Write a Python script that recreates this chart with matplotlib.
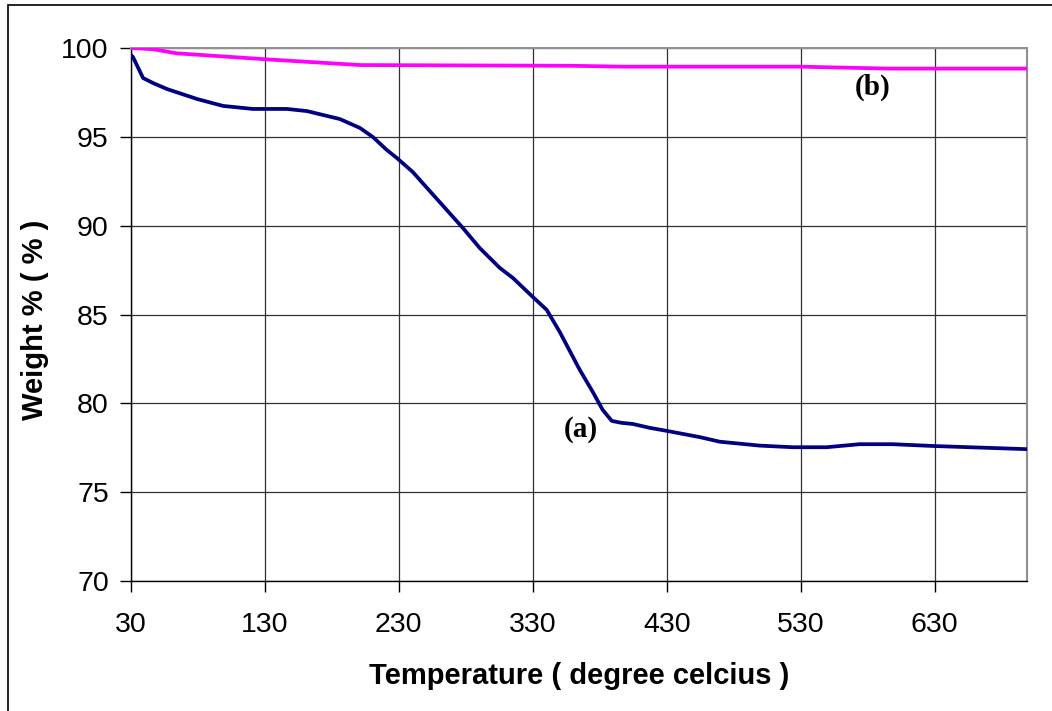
import matplotlib
matplotlib.use("Agg")
import matplotlib.pyplot as plt
from matplotlib.patches import Rectangle

temp_a = [30, 31.5, 39, 46.4, 56.9, 79.3, 98.7, 121, 146.4, 161.3, 186, 200.9, 210.6,
          221, 228.5, 240.4, 245.7, 265.8, 277.8, 290.4, 305.4, 315.1, 330, 340.4, 350.1,
          365.1, 374.8, 382.2, 389, 396.4, 404.6, 417.3, 430, 454.6, 469.6, 499.4, 524,
          549.4, 574, 598.7, 628.5, 699]
weight_a = [99.6, 99.49, 98.31, 98.03, 97.69, 97.13, 96.74, 96.57, 96.57, 96.45, 96.0,
            95.5, 94.99, 94.26, 93.81, 93.02, 92.57, 90.88, 89.87, 88.74, 87.62, 87.06,
            85.99, 85.26, 84.02, 81.88, 80.64, 79.63, 79.01, 78.9, 78.84, 78.62, 78.45,
            78.1, 77.84, 77.62, 77.53, 77.53, 77.70, 77.70, 77.60, 77.42]

temp_b = [30, 46.4, 64.3, 131.5, 200.9, 357.6, 397, 529, 596, 699]
weight_b = [100.0, 99.93, 99.70, 99.36, 99.04, 99.0, 98.95, 98.95, 98.84, 98.84]

x_ticks = [30, 130, 230, 330, 430, 530, 630]
y_ticks = [70, 75, 80, 85, 90, 95, 100]

plt.rcParams['font.family'] = ['Liberation Sans', 'DejaVu Sans']

fig = plt.figure(figsize=(10.52, 7.11), dpi=100)
W, H = 1052, 711
ax = fig.add_axes([131 / W, 1 - 581 / H, (1027 - 131) / W, (581 - 48) / H])

# figure border (cropped at right and bottom in reference)
fig.patches.append(Rectangle((8 / W, -0.1), 1.2, 1.1 - 5 / H, transform=fig.transFigure,
                             fill=False, edgecolor='black', linewidth=1.2))

ax.plot(temp_a, weight_a, color='#000080', linewidth=2.7, zorder=3)
ax.plot(temp_b, weight_b, color='#FF00FF', linewidth=2.7, zorder=3)

ax.set_xlim(30, 699)
ax.set_ylim(70, 100)
ax.set_xticks(x_ticks)
ax.set_yticks(y_ticks)
ax.set_xticklabels([str(t) for t in x_ticks])
ax.set_yticklabels([str(t) for t in y_ticks])
ax.tick_params(axis='both', labelsize=20.5, direction='out', length=8, width=1, color='black')
ax.tick_params(axis='x', pad=14)
ax.tick_params(axis='y', pad=8)

ax.grid(True, color='#303030', linewidth=0.9)
ax.set_axisbelow(True)
for s in ['top', 'right']:
    ax.spines[s].set_color('#909090')
    ax.spines[s].set_linewidth(1.5)
for s in ['left', 'bottom']:
    ax.spines[s].set_color('black')
    ax.spines[s].set_linewidth(1.0)

ax.set_xlabel('Temperature ( degree celcius )', fontsize=21, fontweight='bold', va='center')
ax.set_ylabel('Weight % ( % )', fontsize=21, fontweight='bold', va='center')
ax.xaxis.set_label_coords(0.5, -0.178)
ax.yaxis.set_label_coords(-0.107, 0.49)

ax.text(366, 78.5, '(a)', fontsize=21, fontweight='bold', family='Liberation Serif',
        ha='center', va='center')
ax.text(583.5, 97.8, '(b)', fontsize=21, fontweight='bold', family='Liberation Serif',
        ha='center', va='center')

fig.savefig('out.png', dpi=100)
